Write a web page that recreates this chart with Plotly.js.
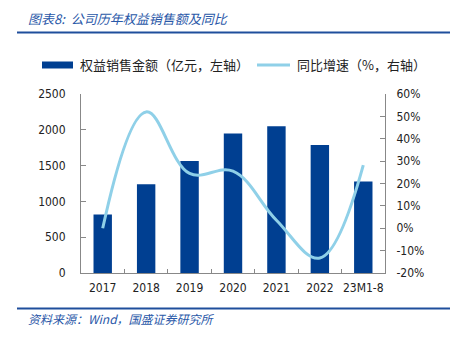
<!DOCTYPE html>
<html><head><meta charset="utf-8">
<script src="https://cdn.plot.ly/plotly-3.0.1.min.js"></script>
<style>html,body{margin:0;padding:0;background:#fff}#c{width:450px;height:338px}</style>
</head><body><div id="c"></div>
<script>
const categories = ['2017','2018','2019','2020','2021','2022','23M1-8'];
const salesValues = [817, 1241, 1563, 1950, 2048, 1786, 1279];
const growthValues = [0, 52, 24.5, 25.5, 3.6, -13.3, 28.2];
const leftTicks = [0, 500, 1000, 1500, 2000, 2500];
const rightTicks = [-20, -10, 0, 10, 20, 30, 40, 50, 60];

const L = 81, R = 385, T = 94, B = 273;
const W = 450, H = 338;
const px = x => (x - L) / (R - L);
const py = y => (B - y) / (B - T);

const blue = '#003f91';
const light = '#8fd0e8';
const titleBlue = '#2a58a8';
const tickFont = {family: 'DejaVu Sans Condensed, DejaVu Sans, sans-serif', size: 12, color: '#222'};
const cjk = 'Noto Sans CJK SC, sans-serif';

const traces = [
  {type: 'bar', x: categories, y: salesValues, marker: {color: blue}, yaxis: 'y', showlegend: false, hoverinfo: 'none'},
  {type: 'scatter', mode: 'lines', x: categories, y: growthValues, yaxis: 'y2',
   line: {color: light, width: 3, shape: 'spline', smoothing: 1.1}, showlegend: false, hoverinfo: 'none'}
];

const layout = {
  width: W, height: H,
  margin: {l: L, r: W - R, t: T, b: H - B, pad: 0},
  paper_bgcolor: '#fff', plot_bgcolor: '#fff',
  bargap: 0.576,
  showlegend: false,
  xaxis: {type: 'category', showline: true, linecolor: '#888', linewidth: 1, ticks: 'inside', ticklen: 4,
          tickcolor: '#888', tickson: 'boundaries', tickangle: 0, tickfont: tickFont, showgrid: false, zeroline: false,
          ticklabelstandoff: 4},
  yaxis: {range: [0, 2500], tickvals: leftTicks, ticktext: leftTicks.map(String), showline: true, linecolor: '#888', linewidth: 1,
          ticks: 'inside', ticklen: 5, tickcolor: '#888', tickfont: tickFont, showgrid: false, zeroline: false, ticklabelstandoff: 12},
  yaxis2: {overlaying: 'y', side: 'right', range: [-20, 60], tickvals: rightTicks, ticktext: rightTicks.map(v => v + '%'),
           showline: true, linecolor: '#888', linewidth: 1, ticks: 'inside', ticklen: 5, tickcolor: '#888',
           tickfont: tickFont, showgrid: false, zeroline: false, ticklabelstandoff: 8},
  shapes: [
    {type: 'line', xref: 'paper', yref: 'paper', x0: px(17), x1: px(450), y0: py(32.5), y1: py(32.5), line: {color: '#1f4e9c', width: 2}},
    {type: 'line', xref: 'paper', yref: 'paper', x0: px(17), x1: px(450), y0: py(308.5), y1: py(308.5), line: {color: '#1f4e9c', width: 2}},
    {type: 'rect', xref: 'paper', yref: 'paper', x0: px(42), x1: px(73), y0: py(61.5), y1: py(68.5), fillcolor: blue, line: {width: 0}},
    {type: 'line', xref: 'paper', yref: 'paper', x0: px(257), x1: px(290), y0: py(65), y1: py(65), line: {color: light, width: 3}}
  ],
  annotations: [
    {xref: 'paper', yref: 'paper', x: px(26), y: py(18), xanchor: 'left', yanchor: 'middle', showarrow: false,
     text: '<i>图表8:  公司历年权益销售额及同比</i>', font: {family: cjk, size: 13, color: titleBlue}},
    {xref: 'paper', yref: 'paper', x: px(26), y: py(318), xanchor: 'left', yanchor: 'middle', showarrow: false,
     text: '<i>资料来源：Wind，国盛证券研究所</i>', font: {family: cjk, size: 12, color: titleBlue}},
    {xref: 'paper', yref: 'paper', x: px(78), y: py(64.5), xanchor: 'left', yanchor: 'middle', showarrow: false,
     text: '权益销售金额（亿元，左轴）', font: {family: cjk, size: 13, color: '#222'}},
    {xref: 'paper', yref: 'paper', x: px(295), y: py(64.5), xanchor: 'left', yanchor: 'middle', showarrow: false,
     text: '同比增速（%，右轴）', font: {family: cjk, size: 13, color: '#222'}}
  ]
};

Plotly.newPlot('c', traces, layout, {displayModeBar: false, staticPlot: true});
</script>
</body></html>
